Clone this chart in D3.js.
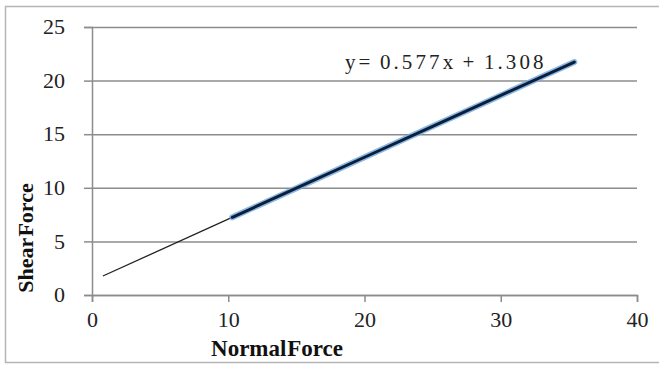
<!DOCTYPE html>
<html>
<head>
<meta charset="utf-8">
<script src="https://cdn.jsdelivr.net/npm/d3@7"></script>
<style>
  html, body { margin: 0; padding: 0; background: #fff; }
  svg { display: block; }
  .tick text { font-family: "Liberation Serif", "Times New Roman", serif; font-size: 22px; fill: #222; }
</style>
</head>
<body>
<svg id="chart" width="659" height="365"></svg>
<script>
// Measured pairs (normal force, shear force)
const normalForce = [10.3, 15.0, 20.0, 25.0, 30.0, 35.4];
const shearForce  = [7.25, 9.96, 12.85, 15.74, 18.62, 21.73];

// Linear trendline coefficients and its plotted range
const slope = 0.577;
const intercept = 1.308;
const trendRange = [0.8, 35.4];

const xTicks = [0, 10, 20, 30, 40];
const yTicks = [0, 5, 10, 15, 20, 25];

const svg = d3.select("#chart");
const serif = '"Liberation Serif", "Times New Roman", serif';

// Chart border
svg.append("rect")
  .attr("x", 5.5).attr("y", 6.5)
  .attr("width", 660).attr("height", 356)
  .attr("fill", "#fff")
  .attr("stroke", "#b5b5b5").attr("stroke-width", 1.5);

const x = d3.scaleLinear().domain([0, 40]).range([92, 637]);
const y = d3.scaleLinear().domain([0, 25]).range([295, 27]);

// Horizontal gridlines with left tick marks
const yAxis = svg.append("g")
  .attr("transform", `translate(${x(0)},0)`)
  .call(d3.axisLeft(y).tickValues(yTicks).tickSize(8).tickPadding(19).tickFormat(d3.format("d")));
yAxis.select(".domain").attr("stroke", "#8c8c8c").attr("stroke-width", 1.5);
yAxis.selectAll(".tick line").attr("stroke", "#8c8c8c").attr("stroke-width", 1.5);
yAxis.selectAll(".tick").append("line")
  .attr("x1", 0).attr("x2", x(40) - x(0))
  .attr("stroke", "#8c8c8c").attr("stroke-width", 1.5);
yAxis.selectAll(".tick text").attr("dy", "0.3em");

// X axis along y = 0
const xAxis = svg.append("g")
  .attr("transform", `translate(0,${y(0)})`)
  .call(d3.axisBottom(x).tickValues(xTicks).tickSize(7).tickPadding(9).tickFormat(d3.format("d")));
xAxis.select(".domain").attr("stroke", "#8c8c8c").attr("stroke-width", 1.5);
xAxis.selectAll(".tick line").attr("stroke", "#8c8c8c").attr("stroke-width", 1.5);

// Trendline
const line = d3.line().x(d => x(d[0])).y(d => y(d[1]));
svg.append("path")
  .datum(trendRange.map(v => [v, slope * v + intercept]))
  .attr("d", line)
  .attr("fill", "none").attr("stroke", "#222").attr("stroke-width", 1.3);

// Data series: soft blue glow under a dark navy line
const pts = normalForce.map((v, i) => [v, shearForce[i]]);
svg.append("path").datum(pts).attr("d", line)
  .attr("fill", "none").attr("stroke", "#6fa6dc").attr("stroke-width", 6)
  .attr("stroke-linecap", "round").attr("opacity", 0.8);
svg.append("path").datum(pts).attr("d", line)
  .attr("fill", "none").attr("stroke", "#0b1f3d").attr("stroke-width", 3)
  .attr("stroke-linecap", "round");

// Trendline equation
svg.append("text")
  .attr("x", 345).attr("y", 69)
  .attr("font-family", serif).attr("font-size", 21)
  .attr("letter-spacing", 3.1)
  .attr("word-spacing", -2)
  .attr("fill", "#222")
  .text(`y= ${slope}x + ${intercept}`);

// Axis titles
svg.append("text")
  .attr("x", 277).attr("y", 356)
  .attr("text-anchor", "middle")
  .attr("font-family", serif).attr("font-size", 23).attr("font-weight", "bold")
  .attr("word-spacing", -5)
  .attr("fill", "#111")
  .text("Normal Force");

svg.append("text")
  .attr("transform", "translate(33,238) rotate(-90)")
  .attr("text-anchor", "middle")
  .attr("font-family", serif).attr("font-size", 22).attr("font-weight", "bold")
  .attr("word-spacing", -4)
  .attr("fill", "#111")
  .text("Shear Force");
</script>
</body>
</html>
